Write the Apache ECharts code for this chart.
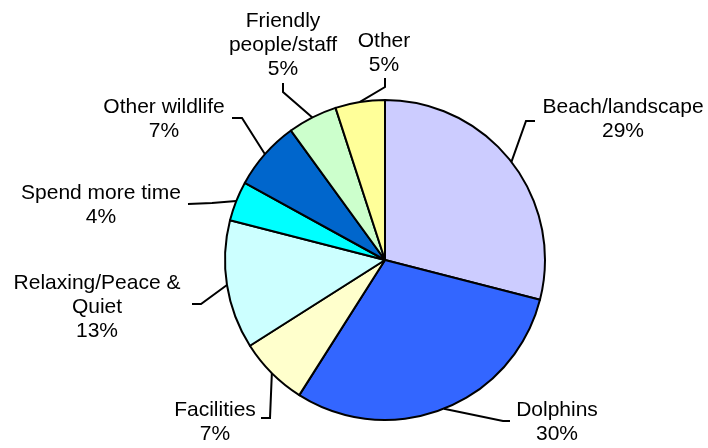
<!DOCTYPE html>
<html>
<head>
<meta charset="utf-8">
<script src="https://cdn.jsdelivr.net/npm/echarts@6/dist/echarts.min.js"></script>
<style>html,body{margin:0;padding:0;background:#fff;}#c{width:708px;height:448px;}</style>
</head>
<body>
<div id="c"></div>
<script>
const categories = ['Beach/landscape', 'Dolphins', 'Facilities', 'Relaxing/Peace &\nQuiet', 'Spend more time', 'Other wildlife', 'Friendly\npeople/staff', 'Other'];
const values = [29, 30, 7, 13, 4, 7, 5, 5];
const colors = ['#CCCCFF', '#3366FF', '#FFFFCC', '#CCFFFF', '#00FFFF', '#0066CC', '#CCFFCC', '#FFFF99'];

// label placement (text block centre, leader elbow, leader end) - layout only
const labelPlacement = [
  {c: [623, 119], elbow: [526, 121], end: [535, 121]},
  {c: [557, 422], elbow: [503, 421], end: [510, 421]},
  {c: [215, 422], elbow: [270, 418], end: [261, 418]},
  {c: [97, 307],  elbow: [201, 304], end: [192, 304]},
  {c: [101, 205], elbow: [212, 203], end: [188, 204]},
  {c: [164, 119], elbow: [242, 118], end: [232, 118]},
  {c: [283, 45],  elbow: [283, 92],  end: [283, 83]},
  {c: [384, 53],  elbow: [385, 87],  end: [385, 78]}
];

const FONT = 'Liberation Sans, Arial, sans-serif';
const chart = echarts.init(document.getElementById('c'), null, {renderer: 'canvas'});
chart.setOption({
  backgroundColor: '#ffffff',
  animation: false,
  series: [{
    type: 'pie',
    center: [385, 260],
    radius: 160,
    startAngle: 90,
    clockwise: true,
    data: categories.map((n, i) => ({name: n, value: values[i], itemStyle: {color: colors[i]}})),
    itemStyle: {borderColor: '#000', borderWidth: 2},
    label: {
      show: true,
      color: '#000',
      fontFamily: FONT,
      fontSize: 21,
      lineHeight: 24,
      overflow: 'none',
      formatter: p => p.name.split('\n').map(s => '{t|' + s + '}').join('\n') + '\n{t|' + p.value + '%}',
      rich: {t: {align: 'center', fontSize: 21, lineHeight: 24, fontFamily: FONT, color: '#000'}}
    },
    labelLine: {show: true, length: 20, length2: 12, lineStyle: {color: '#000', width: 2}},
    labelLayout: function (params) {
      const lp = labelPlacement[params.dataIndex];
      const p0 = params.labelLinePoints ? params.labelLinePoints[0] : lp.elbow;
      return {
        x: lp.c[0],
        y: lp.c[1],
        align: 'center',
        verticalAlign: 'middle',
        labelLinePoints: [p0, lp.elbow, lp.end]
      };
    },
    emphasis: {disabled: true}
  }]
});
</script>
</body>
</html>
